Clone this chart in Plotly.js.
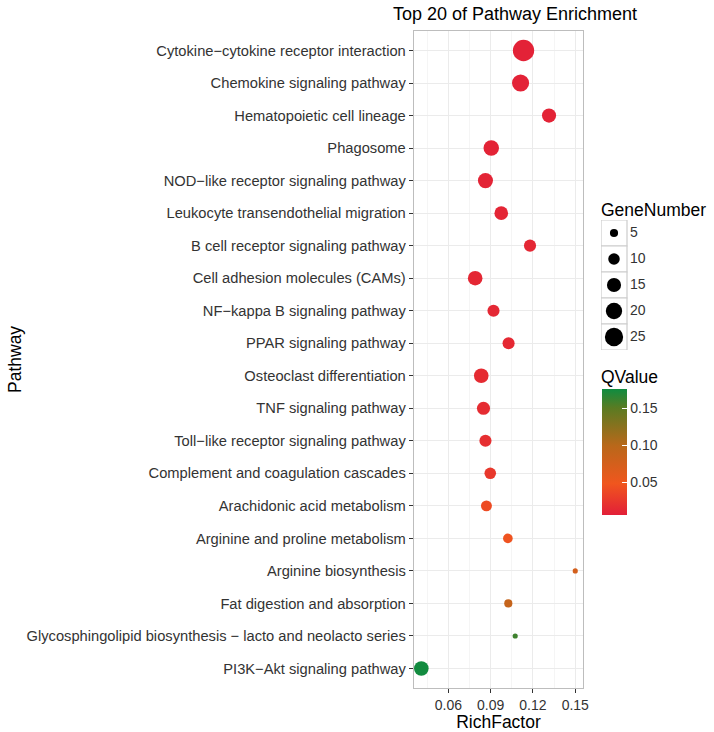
<!DOCTYPE html>
<html>
<head>
<meta charset="utf-8">
<script src="https://cdn.plot.ly/plotly-3.0.1.min.js"></script>
<style>html,body{margin:0;padding:0;background:#fff;}#chart{width:714px;height:732px;}</style>
</head>
<body>
<div id="chart"></div>
<script>
// ---- data ----
const pathways = [
  "Cytokine\u2212cytokine receptor interaction",
  "Chemokine signaling pathway",
  "Hematopoietic cell lineage",
  "Phagosome",
  "NOD\u2212like receptor signaling pathway",
  "Leukocyte transendothelial migration",
  "B cell receptor signaling pathway",
  "Cell adhesion molecules (CAMs)",
  "NF\u2212kappa B signaling pathway",
  "PPAR signaling pathway",
  "Osteoclast differentiation",
  "TNF signaling pathway",
  "Toll\u2212like receptor signaling pathway",
  "Complement and coagulation cascades",
  "Arachidonic acid metabolism",
  "Arginine and proline metabolism",
  "Arginine biosynthesis",
  "Fat digestion and absorption",
  "Glycosphingolipid biosynthesis \u2212 lacto and neolacto series",
  "PI3K\u2212Akt signaling pathway"
];
const richFactor = [0.1133, 0.1112, 0.1314, 0.0904, 0.0863, 0.0975, 0.1179, 0.0790, 0.0920, 0.1027,
                    0.0833, 0.0849, 0.0863, 0.0897, 0.0870, 0.1022, 0.1500, 0.1025, 0.1074, 0.0408];
const geneNumber = [34, 22, 15, 18, 17, 14, 11, 16, 11, 11,
                    16, 13, 11, 10, 9, 7, 2, 5, 2, 16];
const qValue = [0.008, 0.008, 0.009, 0.009, 0.010, 0.011, 0.012, 0.012, 0.013, 0.014,
                0.015, 0.016, 0.018, 0.025, 0.040, 0.046, 0.075, 0.088, 0.160, 0.175];
const legendSizes = [5, 10, 15, 20, 25];
const qTicks = [0.05, 0.10, 0.15];

// ---- geometry helpers (layout only) ----
const L = 414, T = 31, PW = 300, PH = 657, W = 714, H = 732;
const xp = px => (px - L) / PW;
const yp = py => (T + PH - py) / PH;

const FONT = '"Liberation Sans", Arial, Helvetica, sans-serif';
const SIZEREF = 0.15;  // area mode: diameter ~ 3.65*sqrt(n)

const colorscale = [
  [0.00, '#E21F38'],
  [0.25, '#F0561E'],
  [0.55, '#B9681A'],
  [0.85, '#5A7B22'],
  [1.00, '#0F8C40']
];

const main = {
  type: 'scatter', mode: 'markers',
  x: richFactor, y: pathways,
  xaxis: 'x', yaxis: 'y',
  marker: {
    size: geneNumber, sizemode: 'area', sizeref: SIZEREF, sizemin: 1,
    color: qValue, colorscale: colorscale, cmin: 0.006, cmax: 0.176,
    opacity: 1, line: {width: 0},
    showscale: true,
    colorbar: {
      x: xp(602), xanchor: 'left', xpad: 0,
      y: yp(389), yanchor: 'top', ypad: 0,
      thickness: 25, len: 126, lenmode: 'pixels',
      outlinewidth: 0, borderwidth: 0,
      ticks: 'inside', ticklen: 5, tickcolor: '#ffffff', tickwidth: 1,
      tickvals: qTicks, tickformat: '.2f',
      tickfont: {family: FONT, size: 14, color: '#333333'}
    }
  },
  showlegend: false, hoverinfo: 'x+y'
};

const legendY = legendSizes.map((_, i) => i);
const legendKeys = {
  type: 'scatter', mode: 'markers',
  x: legendSizes.map(() => 13), y: legendY,
  xaxis: 'x2', yaxis: 'y2',
  marker: {size: legendSizes, sizemode: 'area', sizeref: SIZEREF, color: '#000000', opacity: 1, line: {width: 0}},
  showlegend: false, hoverinfo: 'skip', cliponaxis: false
};
const legendText = {
  type: 'scatter', mode: 'text',
  x: legendSizes.map(() => 29), y: legendY,
  text: legendSizes.map(String),
  textposition: 'middle right',
  textfont: {family: FONT, size: 14, color: '#333333'},
  xaxis: 'x2', yaxis: 'y2',
  showlegend: false, hoverinfo: 'skip', cliponaxis: false
};

const shapes = legendSizes.map((_, i) => ({
  type: 'rect', xref: 'x2', yref: 'y2',
  x0: 0, x1: 26, y0: i - 0.5, y1: i + 0.5,
  line: {color: '#CCCCCC', width: 1.2}, fillcolor: '#FFFFFF', layer: 'below'
}));

const layout = {
  width: W, height: H,
  margin: {l: L, r: 0, t: T, b: H - T - PH, pad: 0},
  paper_bgcolor: '#ffffff', plot_bgcolor: '#ffffff',
  font: {family: FONT, size: 14, color: '#333333'},
  title: {
    text: 'Top 20 of Pathway Enrichment',
    font: {family: FONT, size: 18, color: '#000000'},
    xref: 'paper', x: xp(515), xanchor: 'center',
    yref: 'container', y: 1 - 14 / H, yanchor: 'middle'
  },
  xaxis: {
    domain: [0, xp(583)],
    range: [0.0356, 0.1555],
    tick0: 0.06, dtick: 0.03, tickformat: '.2f',
    showgrid: true, gridcolor: '#EBEBEB', gridwidth: 1,
    minor: {dtick: 0.015, tick0: 0.045, showgrid: true, gridcolor: '#F5F5F5', gridwidth: 1},
    zeroline: false,
    showline: true, mirror: true, linecolor: '#BDBDBD', linewidth: 1.3,
    ticks: 'outside', ticklen: 4, tickcolor: '#333333', tickwidth: 1,
    tickfont: {family: FONT, size: 14, color: '#333333'},
    title: {text: 'RichFactor', font: {family: FONT, size: 17.5, color: '#000000'}, standoff: 2},
    automargin: false
  },
  yaxis: {
    domain: [0, 1],
    type: 'category', categoryorder: 'array', categoryarray: pathways,
    range: [19.6, -0.6],
    showgrid: true, gridcolor: '#EBEBEB', gridwidth: 1,
    zeroline: false,
    showline: true, mirror: true, linecolor: '#BDBDBD', linewidth: 1.3,
    ticks: 'outside', ticklen: 4, tickcolor: '#333333', tickwidth: 1,
    tickfont: {family: FONT, size: 14.7, color: '#333333'},
    automargin: false
  },
  xaxis2: {
    domain: [xp(601), xp(661)], range: [0, 60], anchor: 'y2',
    visible: false, fixedrange: true
  },
  yaxis2: {
    domain: [yp(350), yp(220)], range: [4.5, -0.5], anchor: 'x2',
    visible: false, fixedrange: true
  },
  shapes: shapes,
  annotations: [
    {text: 'Pathway', xref: 'paper', yref: 'paper', x: xp(15), y: yp(360),
     xanchor: 'center', yanchor: 'middle', textangle: -90, showarrow: false,
     font: {family: FONT, size: 17.5, color: '#000000'}},
    {text: 'GeneNumber', xref: 'paper', yref: 'paper', x: xp(599), y: yp(210),
     xanchor: 'left', yanchor: 'middle', showarrow: false,
     font: {family: FONT, size: 17.5, color: '#000000'}},
    {text: 'QValue', xref: 'paper', yref: 'paper', x: xp(599), y: yp(377),
     xanchor: 'left', yanchor: 'middle', showarrow: false,
     font: {family: FONT, size: 17.5, color: '#000000'}}
  ]
};

Plotly.newPlot('chart', [main, legendKeys, legendText], layout, {staticPlot: true, displayModeBar: false});
</script>
</body>
</html>
